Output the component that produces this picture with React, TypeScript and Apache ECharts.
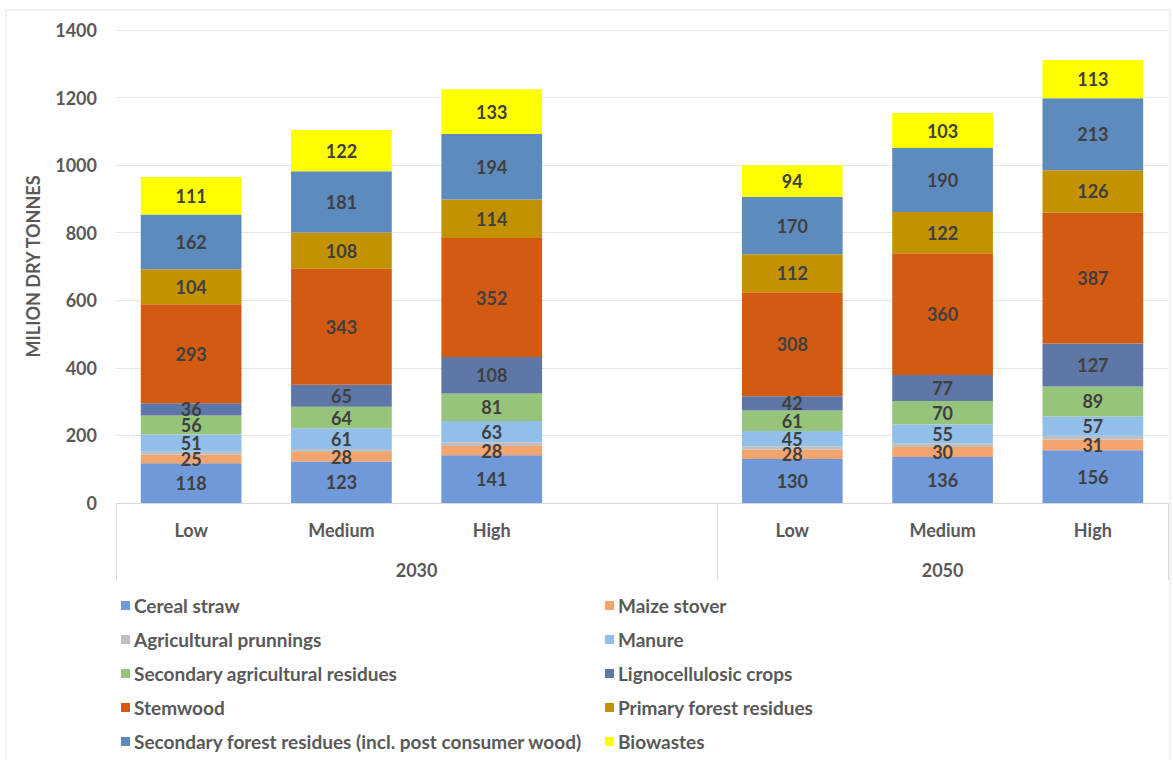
import React, { useEffect, useRef } from "react";
import * as echarts from "echarts";

const categories = ["Low", "Medium", "High", "", "Low", "Medium", "High"];
const groupLabels = ["2030", "2050"];
const yTicks = { min: 0, max: 1400, interval: 200 };

// values per scenario: 2030 Low, Medium, High, 2050 Low, Medium, High
const cerealStraw = [118, 123, 141, 130, 136, 156];
const maizeStover = [25, 28, 28, 28, 30, 31];
const agriPrunnings = [9, 9, 11, 10, 11, 12];
const manure = [51, 61, 63, 45, 55, 57];
const secondaryAgri = [56, 64, 81, 61, 70, 89];
const lignocellulosic = [36, 65, 108, 42, 77, 127];
const stemwood = [293, 343, 352, 308, 360, 387];
const primaryForest = [104, 108, 114, 112, 122, 126];
const secondaryForest = [162, 181, 194, 170, 190, 213];
const biowastes = [111, 122, 133, 94, 103, 113];

const seriesDefs = [
  { name: "Cereal straw", data: cerealStraw, color: "#7099da", label: true },
  { name: "Maize stover", data: maizeStover, color: "#f4a46e", label: true },
  { name: "Agricultural prunnings", data: agriPrunnings, color: "#bfbfbf", label: false },
  { name: "Manure", data: manure, color: "#92bfea", label: true },
  { name: "Secondary agricultural residues", data: secondaryAgri, color: "#95c47a", label: true },
  { name: "Lignocellulosic crops", data: lignocellulosic, color: "#5e77a6", label: true },
  { name: "Stemwood", data: stemwood, color: "#d35a11", label: true },
  { name: "Primary forest residues", data: primaryForest, color: "#c39200", label: true },
  { name: "Secondary forest residues (incl. post consumer wood)", data: secondaryForest, color: "#5e8bbd", label: true },
  { name: "Biowastes", data: biowastes, color: "#ffff00", label: true },
];

const legendLeft = [
  "Cereal straw",
  "Agricultural prunnings",
  "Secondary agricultural residues",
  "Stemwood",
  "Secondary forest residues (incl. post consumer wood)",
];
const legendRight = [
  "Maize stover",
  "Manure",
  "Lignocellulosic crops",
  "Primary forest residues",
  "Biowastes",
];

const FONT = "Lato, 'Open Sans', sans-serif";

function withGap(arr: number[]) {
  return [arr[0], arr[1], arr[2], "-", arr[3], arr[4], arr[5]];
}

export default function App() {
  const ref = useRef<HTMLDivElement>(null);
  useEffect(() => {
    document.body.style.margin = "0";
    const chart = echarts.init(ref.current!, null, { renderer: "svg" });
    const legendCommon = {
      orient: "vertical" as const,
      top: 591,
      itemWidth: 9,
      itemHeight: 9,
      itemGap: 15,
      icon: "rect",
      textStyle: {
        fontFamily: FONT,
        fontSize: 19,
        fontWeight: "bold" as const,
        color: "#595959",
        lineHeight: 19,
        padding: [0, 0, 0, -1],
      },
      selectedMode: false,
    };
    chart.setOption({
      animation: false,
      backgroundColor: "#ffffff",
      textStyle: { fontFamily: FONT },
      graphic: [
        {
          type: "rect",
          shape: { x: 6, y: 10, width: 1164, height: 760 },
          style: { fill: "none", stroke: "#e3e3e3", lineWidth: 1 },
          silent: true,
          z: -10,
        },
      ],
      grid: { left: 116, right: 5, top: 30, bottom: 257, containLabel: false },
      legend: [
        { ...legendCommon, left: 116, data: legendLeft },
        { ...legendCommon, left: 600, data: legendRight },
      ],
      xAxis: [
        {
          type: "category",
          data: categories,
          axisLine: { show: true, lineStyle: { color: "#d9d9d9", width: 1 } },
          axisTick: { show: false },
          axisLabel: {
            fontFamily: FONT,
            fontSize: 18,
            fontWeight: "bold",
            color: "#595959",
            margin: 18,
          },
          splitLine: { show: false },
        },
        {
          type: "value",
          min: -0.5,
          max: 6.5,
          position: "bottom",
          axisLine: { show: false },
          axisTick: {
            show: true,
            customValues: [-0.5, 3.5, 6.5],
            length: 77,
            lineStyle: { color: "#d9d9d9", width: 1 },
          },
          axisLabel: {
            show: true,
            customValues: [1.5, 5],
            formatter: (v: number) => (v < 3.5 ? groupLabels[0] : groupLabels[1]),
            fontFamily: FONT,
            fontSize: 18,
            fontWeight: "bold",
            color: "#595959",
            margin: 58,
          },
          splitLine: { show: false },
        },
      ],
      yAxis: {
        type: "value",
        min: yTicks.min,
        max: yTicks.max,
        interval: yTicks.interval,
        name: "MILION DRY TONNES",
        nameLocation: "middle",
        nameGap: 74,
        nameTextStyle: {
          fontFamily: FONT,
          fontSize: 18,
          fontWeight: "bold",
          color: "#595959",
        },
        axisLine: { show: false },
        axisTick: { show: false },
        axisLabel: {
          fontFamily: FONT,
          fontSize: 18,
          fontWeight: "bold",
          color: "#595959",
          margin: 19,
          formatter: (v: number) => String(v),
        },
        splitLine: { lineStyle: { color: "#e6e6e6", width: 1 } },
      },
      series: seriesDefs.map((s) => ({
        name: s.name,
        type: "bar",
        stack: "total",
        xAxisIndex: 0,
        barCategoryGap: "33%",
        data: withGap(s.data),
        itemStyle: { color: s.color },
        label: {
          show: s.label,
          position: "inside",
          formatter: "{c}",
          fontFamily: FONT,
          fontSize: 18,
          fontWeight: "bold",
          color: "#404040",
        },
        emphasis: { disabled: true },
      })),
    });
    return () => chart.dispose();
  }, []);
  return <div ref={ref} style={{ width: 1173, height: 760 }} />;
}
